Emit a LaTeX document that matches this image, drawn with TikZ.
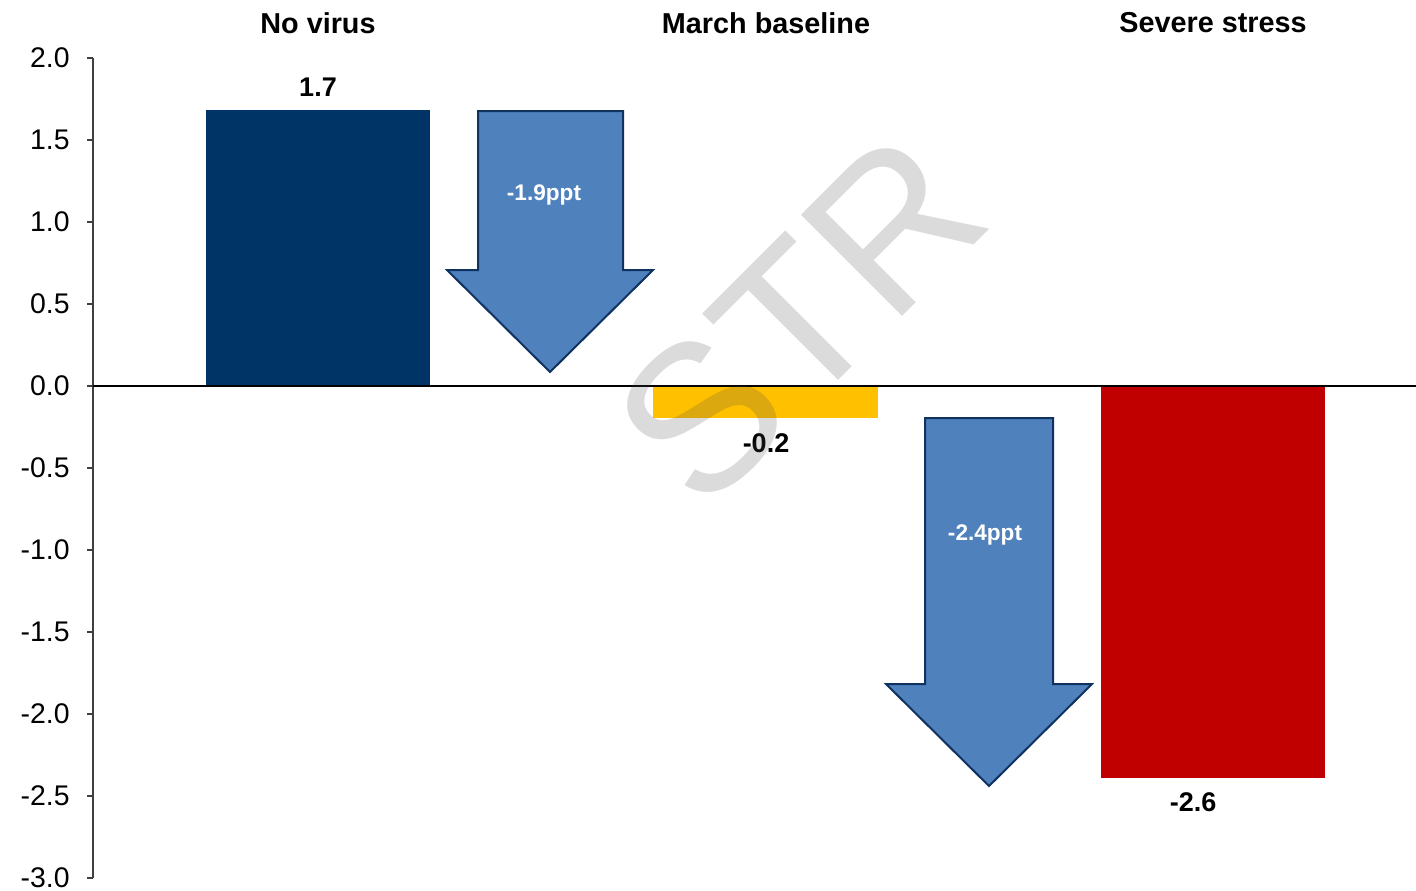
\documentclass[tikz,border=0pt]{standalone}
\usepackage{fontspec}
\setmainfont{Liberation Sans}
\definecolor{navy}{RGB}{0,51,102}
\definecolor{gold}{RGB}{255,192,0}
\definecolor{crimson}{RGB}{192,0,0}
\definecolor{arrowfill}{RGB}{79,129,189}
\definecolor{arrowedge}{RGB}{16,50,96}
\definecolor{axisgray}{RGB}{64,64,64}
\definecolor{wm}{RGB}{75,75,75}
\tikzset{
  ticklabel/.style={anchor=east, font=\fontsize{14.2}{16}\selectfont, inner sep=0pt},
  catlabel/.style={font=\bfseries\fontsize{14.4}{16}\selectfont, inner sep=0pt},
  vallabel/.style={font=\bfseries\fontsize{13.5}{16}\selectfont, inner sep=0pt},
  arrowlabel/.style={font=\bfseries\fontsize{11.3}{13}\selectfont, text=white, inner sep=0pt},
  downarrow/.style={fill=arrowfill, draw=arrowedge, line width=1pt, line join=miter},
  axisline/.style={draw=axisgray, line width=0.75pt},
}
\begin{document}
\begin{tikzpicture}[x=0.5pt,y=-0.5pt]
\useasboundingbox (0,0) rectangle (1416,890);
% bars
\fill[navy] (206,110) rectangle (430,386);
\fill[gold] (653,386) rectangle (878,418);
\fill[crimson] (1101,386) rectangle (1325,778);
% axis
\draw[axisline] (93,58) -- (93,878);
\foreach \v/\y in {2.0/58,1.5/140,1.0/222,0.5/304,0.0/386,-0.5/468,-1.0/550,-1.5/632,-2.0/714,-2.5/796,-3.0/878}{
  \draw[axisline] (87,\y) -- (93,\y);
  \node[ticklabel] (t\y) at (70,\y) {\v};
}
\draw[black, line width=0.75pt] (93,386) -- (1416,386);
% arrows
\draw[downarrow] (478,111) -- (623,111) -- (623,270) -- (653,270) -- (550,372) -- (447,270) -- (478,270) -- cycle;
\node[arrowlabel] (a1) at (544,195) {-1.9ppt};
\draw[downarrow] (925,418) -- (1053,418) -- (1053,684) -- (1092,684) -- (989,786) -- (886,684) -- (925,684) -- cycle;
\node[arrowlabel] (a2) at (985,535) {-2.4ppt};
% labels
\node[catlabel] (c1) at (318,23) {No virus};
\node[catlabel] (c2) at (766,23) {March baseline};
\node[catlabel] (c3) at (1213,23) {Severe stress};
\node[vallabel] (v1) at (318,87) {1.7};
\node[vallabel] (v2) at (766,443) {-0.2};
\node[vallabel] (v3) at (1193,802) {-2.6};
% watermark
\node[rotate=45, text=wm, text opacity=0.2, inner sep=0pt, font=\fontsize{104}{104}\selectfont] (wmk) at (799,319) {STR};
\end{tikzpicture}
\end{document}
